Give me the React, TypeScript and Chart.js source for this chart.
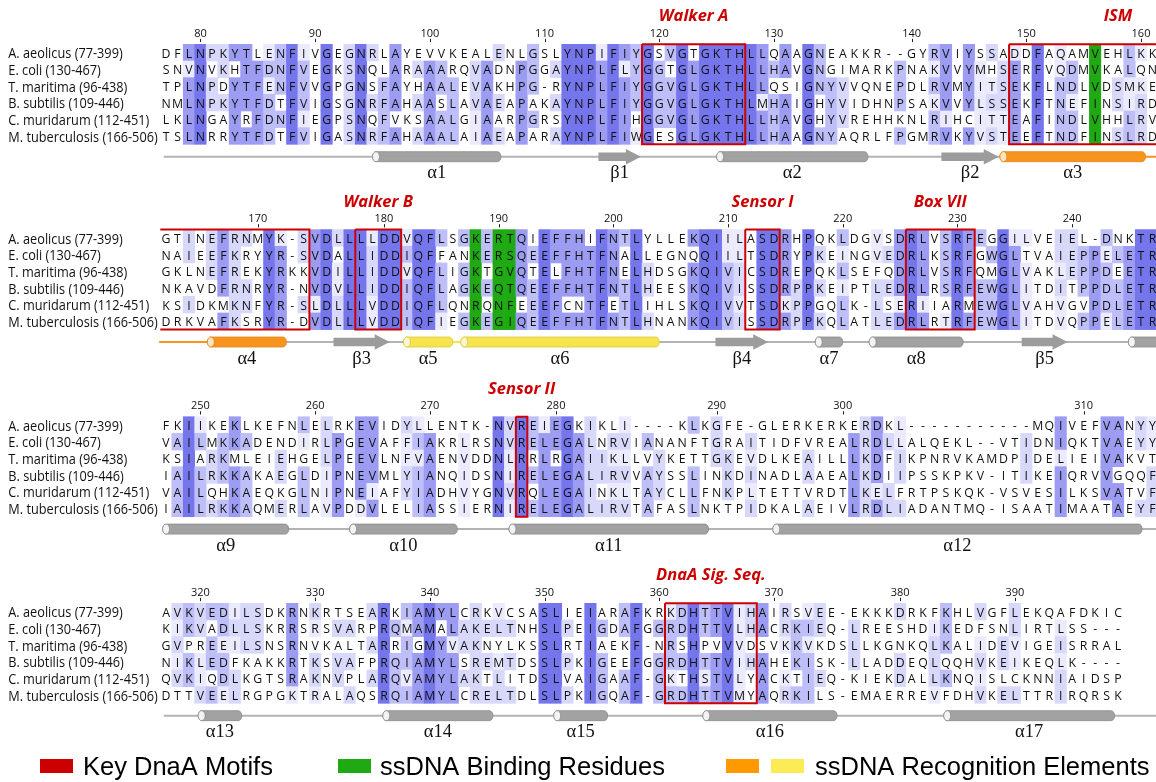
import React, { useEffect, useRef } from 'react';
import { Chart, registerables } from 'chart.js';

Chart.register(...registerables);

// ---------------- data ----------------
const SPECIES = [
  'A. aeolicus (77-399)',
  'E. coli (130-467)',
  'T. maritima (96-438)',
  'B. subtilis (109-446)',
  'C. muridarum (112-451)',
  'M. tuberculosis (166-506)',
];

const BLOCK_1 = [
  'DFLNPKYTLENFIVGEGNRLAYEVVKEALENLGSLYNPIFIYGSVGTGKTHLLQAAGNEAKKR--GYRVIYSSADDFAQAMVEHLKK',
  'SNVNVKHTFDNFVEGKSNQLARAAARQVADNPGGAYNPLFLYGGTGLGKTHLLHAVGNGIMARKPNAKVVYMHSERFVQDMVKALQN',
  'TPLNPDYTFENFVVGPGNSFAYHAALEVAKHPG-RYNPLFIYGGVGLGKTHLLQSIGNYVVQNEPDLRVMYITSEKFLNDLVDSMKE',
  'NMLNPKYTFDTFVIGSGNRFAHAASLAVAEAPAKAYNPLFIYGGVGLGKTHLMHAIGHYVIDHNPSAKVVYLSSEKFTNEFINSIRD',
  'LKLNGAYRFDNFIEGPSNQFVKSAALGIAARPGRSYNPLFIHGGVGLGKTHLLHAVGHYVREHHKNLRIHCITTEAFINDLVHHLRV',
  'TSLNRRYTFDTFVIGASNRFAHAAALAIAEAPARAYNPLFIWGESGLGKTHLLHAAGNYAQRLFPGMRVKYVSTEEFTNDFINSLRD',
];
const BLOCK_2 = [
  'GTINEFRNMYK-SVDLLLLDDVQFLSGKERTQIEFFHIFNTLYLLEKQIILASDRHPQKLDGVSDRLVSRFEGGILVEIEL-DNKTR',
  'NAIEEFKRYYR-SVDALLIDDIQFFANKERSQEEFFHTFNALLEGNQQIILTSDRYPKEINGVEDRLKSRFGWGLTVAIEPPELETR',
  'GKLNEFREKYRKKVDILLIDDVQFLIGKTGVQTELFHTFNELHDSGKQIVICSDREPQKLSEFQDRLVSRFQMGLVAKLEPPDEETR',
  'NKAVDFRNRYR-NVDVLLIDDIQFLAGKEQTQEEFFHTFNTLHEESKQIVISSDRPPKEIPTLEDRLRSRFEWGLITDITPPDLETR',
  'KSIDKMKNFYR-SLDLLLVDDIQFLQNRQNFEEEFCNTFETLIHLSKQIVVTSDKPPGQLK-LSERIIARMEWGLVAHVGVPDLETR',
  'DRKVAFKSRYR-DVDLLLVDDIQFIEGKEGIQEEFFHTFNTLHNANKQIVISSDRPPKQLATLEDRLRTRFEWGLITDVQPPELETR',
];
const BLOCK_3 = [
  'FKIIKEKLKEFNLELRKEVIDYLLENTK-NVREIEGKIKLI----KLKGFE-GLERKERKERDKL-----------MQIVEFVANYY',
  'VAILMKKADENDIRLPGEVAFFIAKRLRSNVRELEGALNRVIANANFTGRAITIDFVREALRDLLALQEKL--VTIDNIQKTVAEYY',
  'KSIARKMLEIEHGELPEEVLNFVAENVDDNLRRLRGAIIKLLVYKETTGKEVDLKEAILLLKDFIKPNRVKAMDPIDELIEIVAKVT',
  'IAILRKKAKAEGLDIPNEVMLYIANQIDSNIRELEGALIRVVAYSSLINKDINADLAAEALKDIIPSSKPKV-ITIKEIQRVVGQQF',
  'VAILQHKAEQKGLNIPNEIAFYIADHVYGNVRQLEGAINKLTAYCLLFNKPLTETTVRDTLKELFRTPSKQK-VSVESILKSVATVF',
  'IAILRKKAQMERLAVPDDVLELIASSIERNIRELEGALIRVTAFASLNKTPIDKALAEIVLRDLIADANTMQ-ISAATIMAATAEYF',
];
const BLOCK_4 = [
  'AVKVEDILSDKRNKRTSEARKIAMYLCRKVCSASLIEIARAFKRKDHTTVIHAIRSVEE-EKKKDRKFKHLVGFLEKQAFDKIC',
  'KIKVADLLSKRRSRSVARPRQMAMALAKELTNHSLPEIGDAFGGRDHTTVLHACRKIEQ-LREESHDIKEDFSNLIRTLSS---',
  'GVPREEILSNSRNVKALTARRIGMYVAKNYLKSSLRTIAEKF-NRSHPVVVDSVKKVKDSLLKGNKQLKALIDEVIGEISRRAL',
  'NIKLEDFKAKKRTKSVAFPRQIAMYLSREMTDSSLPKIGEEFGGRDHTTVIHAHEKISK-LLADDEQLQQHVKEIKEQLK----',
  'QVKIQDLKGTSRAKNVPLARQVAMYLAKTLITDSLVAIGAAF-GKTHSTVLYACKTIEQ-KIEKDALLKNQISLCKNNIAIDSP',
  'DTTVEELRGPGKTRALAQSRQIAMYLCRELTDLSLPKIGQAF-GRDHTTVMYAQRKILS-EMAERREVFDHVKELTTRIRQRSK',
];
const BLOCKS = [BLOCK_1, BLOCK_2, BLOCK_3, BLOCK_4];
// A. aeolicus residue number of the first column of each block
const BLOCK_START = [77, 162, 247, 317];
const LAST_RESIDUE = 399;

const TICKS_1 = [80, 90, 100, 110, 120, 130, 140, 150, 160];
const TICKS_2 = [170, 180, 190, 200, 210, 220, 230, 240];
const TICKS_3 = [250, 260, 270, 280, 290, 300, 310];
const TICKS_4 = [320, 330, 340, 350, 360, 370, 380, 390];
const TICKS = [TICKS_1, TICKS_2, TICKS_3, TICKS_4];

// key DnaA motifs (A. aeolicus numbering)
const MOTIF_NAMES = ['Walker A', 'ISM', 'Walker B', 'Sensor I', 'Box VII', 'Sensor II', 'DnaA Sig. Seq.'];
const MOTIF_FROM = [119, 149, 178, 212, 226, 277, 361];
const MOTIF_TO = [127, 173, 181, 214, 231, 277, 368];
const MOTIF_LABEL_AT = [0, 158, 0, 0, 0, 0, 0]; // 0 = centred on box

// ssDNA binding residues (A. aeolicus numbering)
const SSDNA_BINDING = [156, 188, 190, 191];

// secondary structure: [kind, fromColumn, toColumn, label, tone]
type SS = [string, number, number, string, string];
const SS_1: SS[] = [
  ['helix', 18.0, 29.2, 'α1', 'gray'],
  ['strand', 37.7, 41.4, 'β1', 'gray'],
  ['helix', 48.0, 61.2, 'α2', 'gray'],
  ['strand', 67.6, 72.6, 'β2', 'gray'],
  ['helix', 72.7, 85.4, 'α3', 'orange'],
];
const SS_2: SS[] = [
  ['helix', 3.6, 10.5, 'α4', 'orange'],
  ['strand', 14.6, 19.5, 'β3', 'gray'],
  ['helix', 20.7, 25.0, 'α5', 'yellow'],
  ['helix', 25.7, 43.0, 'α6', 'yellow'],
  ['strand', 47.9, 52.5, 'β4', 'gray'],
  ['helix', 56.6, 59.0, 'α7', 'gray'],
  ['helix', 61.3, 69.5, 'α8', 'gray'],
  ['strand', 74.6, 78.6, 'β5', 'gray'],
  ['helix', 83.9, 87.5, '', 'gray'],
];
const SS_3: SS[] = [
  ['helix', -0.3, 10.7, 'α9', 'gray'],
  ['helix', 16.0, 25.4, 'α10', 'gray'],
  ['helix', 29.9, 47.3, 'α11', 'gray'],
  ['helix', 52.9, 85.1, 'α12', 'gray'],
];
const SS_4: SS[] = [
  ['helix', 2.8, 6.6, 'α13', 'gray'],
  ['helix', 18.9, 28.5, 'α14', 'gray'],
  ['helix', 33.8, 38.5, 'α15', 'gray'],
  ['helix', 46.8, 58.5, 'α16', 'gray'],
  ['helix', 67.8, 82.7, 'α17', 'gray'],
];
const SECONDARY = [SS_1, SS_2, SS_3, SS_4];

// backbone line segments: [fromColumn, toColumn, tone]
const BACKBONE_1: [number, number, string][] = [[-0.2, 72.7, 'gray'], [72.7, 90, 'orange']];
const BACKBONE_2: [number, number, string][] = [[-0.6, 10.5, 'orange'], [10.5, 20.7, 'gray'], [20.7, 43.0, 'yellow'], [43.0, 90, 'gray']];
const BACKBONE_3: [number, number, string][] = [[-0.3, 90, 'gray']];
const BACKBONE_4: [number, number, string][] = [[-0.2, 90, 'gray']];
const BACKBONES = [BACKBONE_1, BACKBONE_2, BACKBONE_3, BACKBONE_4];

const LEGEND_LABELS = ['Key DnaA Motifs', 'ssDNA Binding Residues', 'ssDNA Recognition Elements'];

// ---------------- layout & style ----------------
const W = 1156;
const H = 782;
const X0 = 160.3; // left edge of column 0
const CW = 11.47; // column width
const ROW_A = [53.3, 238.6, 425.7, 612.3]; // centre of first sequence row per block
const ROW_H = 16.67;
const CELL_OFF = 9.0;

const COLORS = {
  red: '#cc0000',
  green: '#1faa14',
  legendOrange: '#ff9900',
  legendYellow: '#fbec55',
};
const SHADES = ['#ebebfd', '#d8d8fb', '#bebef8', '#9c9cf3', '#7676ec'];
const TONE_FILL: Record<string, string> = { gray: '#a2a2a2', orange: '#f7941d', yellow: '#f6e44e' };
const TONE_CAP: Record<string, string> = { gray: '#f3f3f3', orange: '#fde3c0', yellow: '#fdf7cf' };
const TONE_EDGE: Record<string, string> = { gray: '#8a8a8a', orange: '#e0851a', yellow: '#d9c63c' };
const TONE_LINE: Record<string, string> = { gray: '#b3b3b3', orange: '#f7941d', yellow: '#f6e44e' };

const SANS = '"Open Sans", "DejaVu Sans", sans-serif';
const SERIF = '"Liberation Serif", "DejaVu Serif", serif';
const ARIAL = '"Liberation Sans", Arial, sans-serif';

const GROUPS = ['ILVM', 'FYW', 'KR', 'DE', 'NQ', 'ST'];

function blockEnd(b: number) {
  return b + 1 < BLOCK_START.length ? BLOCK_START[b + 1] - 1 : LAST_RESIDUE;
}
function colOfResidue(b: number, res: number): number {
  const seq = BLOCKS[b][0];
  let n = BLOCK_START[b] - 1;
  for (let c = 0; c < seq.length; c++) {
    if (seq[c] !== '-') {
      n++;
      if (n === res) return c;
    }
  }
  return -1;
}
function blockOfResidue(res: number) {
  for (let b = BLOCK_START.length - 1; b >= 0; b--) if (res >= BLOCK_START[b]) return b;
  return 0;
}

function shadeIndex(column: string[], ch: string): number {
  if (ch === '-' || ch === ' ' || ch === undefined) return -1;
  const n = column.filter((c) => c === ch).length;
  if (n >= 6) return 4;
  if (n === 5) return 3;
  if (n === 4) return 2;
  if (n === 3) return 1;
  const g = GROUPS.find((s) => s.includes(ch));
  if (g) {
    const m = column.filter((c) => g.includes(c)).length;
    if (m >= 5) return 0;
  }
  return -1;
}

function buildCells() {
  const data: { x: number; y: [number, number] }[] = [];
  const colors: string[] = [];
  BLOCKS.forEach((rows, b) => {
    const greenCols = SSDNA_BINDING.filter((r) => blockOfResidue(r) === b).map((r) => colOfResidue(b, r));
    const len = rows[0].length;
    for (let c = 0; c < len; c++) {
      const column = rows.map((s) => s[c]);
      rows.forEach((s, r) => {
        const top = ROW_A[b] - CELL_OFF + r * ROW_H;
        let color = '';
        if (greenCols.includes(c) && s[c] !== '-') color = COLORS.green;
        else {
          const k = shadeIndex(column, s[c]);
          if (k >= 0) color = SHADES[k];
        }
        if (color) {
          data.push({ x: c, y: [top, top + ROW_H] });
          colors.push(color);
        }
      });
    }
  });
  return { data, colors };
}

function lineY(b: number) {
  return ROW_A[b] + 103.4;
}

function drawHelix(ctx: CanvasRenderingContext2D, x1: number, x2: number, yc: number, tone: string) {
  const h = 10;
  const ry = h / 2;
  const rx = Math.min(3.5, (x2 - x1) / 4);
  ctx.beginPath();
  ctx.moveTo(x1 + rx, yc - ry);
  ctx.lineTo(x2 - rx, yc - ry);
  ctx.ellipse(x2 - rx, yc, rx, ry, 0, -Math.PI / 2, Math.PI / 2);
  ctx.lineTo(x1 + rx, yc + ry);
  ctx.ellipse(x1 + rx, yc, rx, ry, 0, Math.PI / 2, Math.PI * 1.5);
  ctx.closePath();
  ctx.fillStyle = TONE_FILL[tone];
  ctx.fill();
  ctx.lineWidth = 0.8;
  ctx.strokeStyle = TONE_EDGE[tone];
  ctx.stroke();
  ctx.beginPath();
  ctx.ellipse(x1 + rx, yc, rx, ry, 0, 0, Math.PI * 2);
  ctx.fillStyle = TONE_CAP[tone];
  ctx.fill();
  ctx.stroke();
}

function drawStrand(ctx: CanvasRenderingContext2D, x1: number, x2: number, yc: number, tone: string) {
  const hl = Math.min(15, (x2 - x1) * 0.6);
  const bh = 4.2;
  const hh = 7.8;
  ctx.beginPath();
  ctx.moveTo(x1, yc - bh);
  ctx.lineTo(x2 - hl, yc - bh);
  ctx.lineTo(x2 - hl, yc - hh);
  ctx.lineTo(x2, yc);
  ctx.lineTo(x2 - hl, yc + hh);
  ctx.lineTo(x2 - hl, yc + bh);
  ctx.lineTo(x1, yc + bh);
  ctx.closePath();
  ctx.fillStyle = tone === 'gray' ? '#9c9c9c' : TONE_FILL[tone];
  ctx.fill();
}

const alignmentPlugin = {
  id: 'alignmentDecor',
  afterDatasetsDraw(chart: any) {
    const ctx: CanvasRenderingContext2D = chart.ctx;
    const xs = chart.scales.x;
    const ys = chart.scales.y;
    const px = (v: number) => xs.getPixelForValue(v);
    const py = (v: number) => ys.getPixelForValue(v);
    const cw = px(1) - px(0);
    ctx.save();

    BLOCKS.forEach((rows, b) => {
      const rA = ROW_A[b];
      // species names
      ctx.fillStyle = '#111';
      ctx.textAlign = 'left';
      ctx.textBaseline = 'alphabetic';
      ctx.font = `14px ${SANS}`;
      SPECIES.forEach((name, r) => {
        ctx.save();
        ctx.translate(8.3, py(rA + r * ROW_H + 5));
        ctx.scale(0.91, 1);
        ctx.fillText(name, 0, 0);
        ctx.restore();
      });
      // residues
      ctx.font = `12.3px ${SANS}`;
      ctx.textAlign = 'center';
      rows.forEach((s, r) => {
        const y = py(rA + r * ROW_H + 4.4);
        for (let c = 0; c < s.length; c++) {
          ctx.fillText(s[c], px(c), y);
        }
      });
      // ticks
      ctx.font = `11px ${SANS}`;
      ctx.strokeStyle = '#222';
      ctx.lineWidth = 1;
      TICKS[b].forEach((t) => {
        const c = colOfResidue(b, t);
        if (c < 0) return;
        const x = px(c);
        ctx.fillText(String(t), x, py(rA - 16.6));
        ctx.beginPath();
        ctx.moveTo(Math.round(x) + 0.5, py(rA - 14.5));
        ctx.lineTo(Math.round(x) + 0.5, py(rA - 11.2));
        ctx.stroke();
      });
    });

    // motif boxes
    ctx.strokeStyle = COLORS.red;
    ctx.lineWidth = 2;
    MOTIF_NAMES.forEach((name, m) => {
      const from = MOTIF_FROM[m];
      const to = MOTIF_TO[m];
      BLOCKS.forEach((_, b) => {
        const s = BLOCK_START[b];
        const e = blockEnd(b);
        if (to < s || from > e) return;
        const c1 = colOfResidue(b, Math.max(from, s));
        const c2 = colOfResidue(b, Math.min(to, e));
        const openL = from < s;
        const openR = to > e;
        const xl = px(c1) - cw / 2;
        const xr = openR ? chart.chartArea.right + 4 : px(c2) + cw / 2;
        const yt = py(ROW_A[b] - CELL_OFF);
        const yb = py(ROW_A[b] - CELL_OFF + 6 * ROW_H);
        ctx.strokeStyle = COLORS.red;
        ctx.lineWidth = 2;
        ctx.beginPath();
        ctx.moveTo(xl, yt);
        ctx.lineTo(xr, yt);
        if (!openR) ctx.lineTo(xr, yb);
        else ctx.moveTo(xr, yb);
        ctx.lineTo(xl, yb);
        if (!openL) ctx.lineTo(xl, yt);
        ctx.stroke();
      });
      // title
      const anchorRes = MOTIF_LABEL_AT[m] || 0;
      let tb: number;
      let tx: number;
      if (anchorRes) {
        tb = blockOfResidue(anchorRes);
        tx = px(colOfResidue(tb, anchorRes));
      } else {
        tb = blockOfResidue(from);
        const c1 = colOfResidue(tb, from);
        const c2 = colOfResidue(tb, Math.min(to, blockEnd(tb)));
        tx = (px(c1) + px(c2)) / 2;
      }
      ctx.fillStyle = COLORS.red;
      ctx.font = `italic bold 16.5px ${SANS}`;
      ctx.textAlign = 'center';
      ctx.fillText(name, tx, py(ROW_A[tb] - 32));
    });

    // secondary structure elements
    SECONDARY.forEach((list, b) => {
      const yc = py(lineY(b));
      list.forEach(([kind, f, t, label, tone]) => {
        const x1 = px(f);
        const x2 = px(t);
        if (kind === 'helix') drawHelix(ctx, x1, x2, yc, tone);
        else drawStrand(ctx, x1, x2, yc, tone);
        if (label) {
          ctx.fillStyle = '#111';
          ctx.font = `18.5px ${SERIF}`;
          ctx.textAlign = 'center';
          ctx.fillText(label, (x1 + x2) / 2, py(ROW_A[b] + 125));
        }
      });
    });

    // legend
    const ly = 766.5;
    const swatch = (x: number, color: string) => {
      ctx.fillStyle = color;
      ctx.fillRect(x, ly - 7.5, 33, 14);
    };
    swatch(40, COLORS.red);
    swatch(338, COLORS.green);
    swatch(726, COLORS.legendOrange);
    swatch(771, COLORS.legendYellow);
    ctx.fillStyle = '#000';
    ctx.font = `25.5px ${ARIAL}`;
    ctx.textAlign = 'left';
    ctx.fillText(LEGEND_LABELS[0], 83, ly + 8.6);
    ctx.fillText(LEGEND_LABELS[1], 380, ly + 8.6);
    ctx.fillText(LEGEND_LABELS[2], 815, ly + 8.6);

    ctx.restore();
  },
};

export default function App() {
  const ref = useRef<HTMLCanvasElement>(null);
  useEffect(() => {
    const canvas = ref.current;
    if (!canvas) return;
    const { data, colors } = buildCells();
    const lineSets: any[] = [];
    BACKBONES.forEach((segs, b) => {
      segs.forEach(([f, t, tone]) => {
        lineSets.push({
          type: 'line',
          data: [
            { x: f, y: lineY(b) },
            { x: t, y: lineY(b) },
          ],
          borderColor: TONE_LINE[tone],
          borderWidth: 2,
          pointRadius: 0,
          fill: false,
        });
      });
    });
    const xMin = -0.5 - X0 / CW;
    const xMax = xMin + W / CW;
    const chart = new Chart(canvas, {
      type: 'bar',
      data: {
        datasets: [
          {
            type: 'bar',
            data: data as any,
            backgroundColor: colors,
            borderWidth: 0,
            categoryPercentage: 1,
            barPercentage: 1,
            grouped: false,
          } as any,
          ...lineSets,
        ],
      },
      options: {
        responsive: false,
        maintainAspectRatio: false,
        animation: false,
        devicePixelRatio: 1,
        events: [],
        layout: { padding: 0 },
        plugins: { legend: { display: false }, tooltip: { enabled: false } },
        scales: {
          x: { type: 'linear', min: xMin, max: xMax, offset: false, display: false },
          y: { type: 'linear', min: 0, max: H, reverse: true, display: false },
        },
      },
      plugins: [alignmentPlugin],
    });
    let alive = true;
    const fonts = [`14px ${SANS}`, `italic bold 16.5px ${SANS}`, `18.5px ${SERIF}`, `25.5px ${ARIAL}`];
    if ((document as any).fonts) {
      Promise.all(fonts.map((f) => (document as any).fonts.load(f)))
        .then(() => {
          if (alive) chart.draw();
        })
        .catch(() => {});
    }
    return () => {
      alive = false;
      chart.destroy();
    };
  }, []);
  return (
    <div style={{ position: 'absolute', left: 0, top: 0, width: W, height: H, background: '#fff' }}>
      <canvas ref={ref} width={W} height={H} style={{ display: 'block' }} />
    </div>
  );
}
